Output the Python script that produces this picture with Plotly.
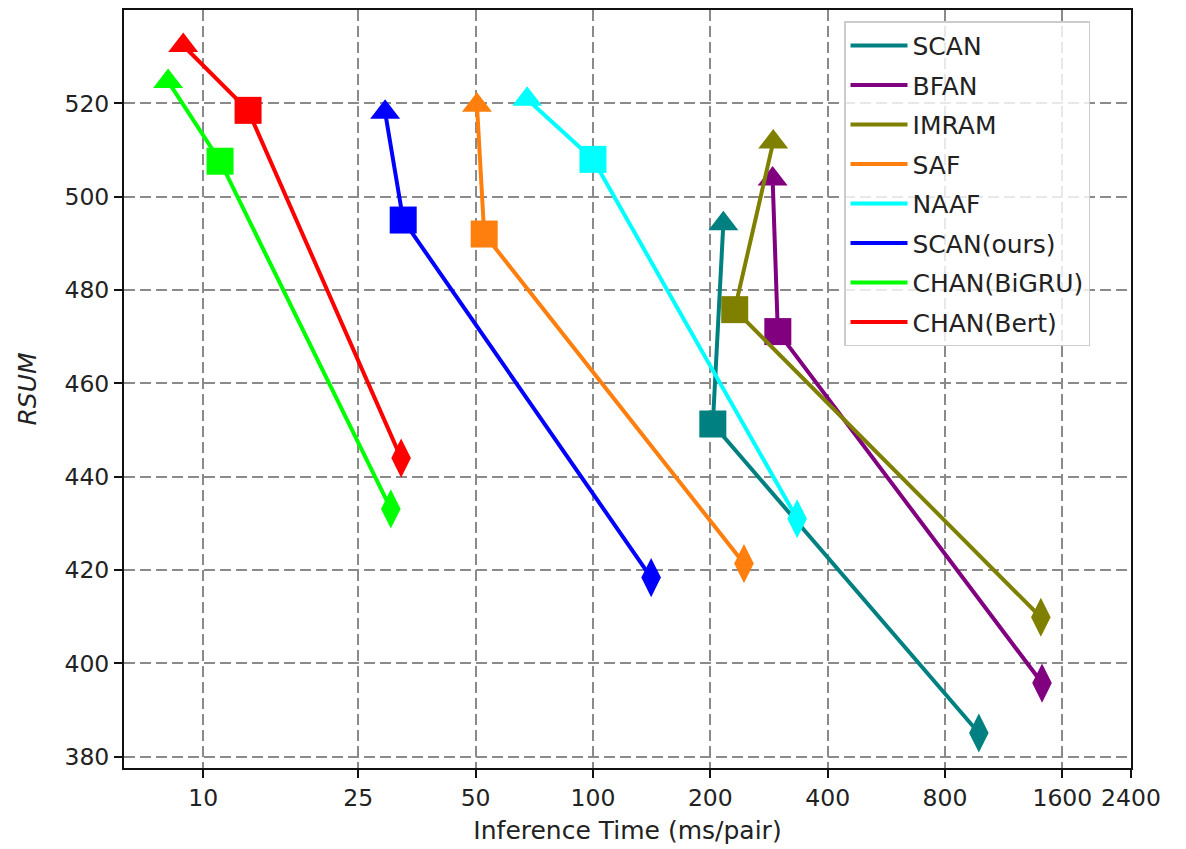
import plotly.graph_objects as go

# ---- data ----
names = ["SCAN", "BFAN", "IMRAM", "SAF", "NAAF", "SCAN(ours)", "CHAN(BiGRU)", "CHAN(Bert)"]
colors = ["#008080", "#800080", "#808000", "#ff7f0e", "#00ffff", "#0000ff", "#00ff00", "#ff0000"]

scan_x = [216, 203, 977]
scan_y = [494.2, 451.3, 385.1]
bfan_x = [289, 298, 1419]
bfan_y = [503.8, 471.1, 395.8]
imram_x = [290, 231, 1409]
imram_y = [511.7, 475.8, 409.9]
saf_x = [50.4, 52.6, 244]
saf_y = [519.6, 492.0, 421.4]
naaf_x = [67.8, 100, 334]
naaf_y = [520.9, 508.0, 431.0]
scan_ours_x = [29.3, 32.6, 141]
scan_ours_y = [518.1, 495.0, 418.4]
chan_bigru_x = [8.13, 11.05, 30.3]
chan_bigru_y = [524.7, 507.6, 433.1]
chan_bert_x = [8.89, 13.04, 32.2]
chan_bert_y = [532.4, 518.5, 444.0]

xs = [scan_x, bfan_x, imram_x, saf_x, naaf_x, scan_ours_x, chan_bigru_x, chan_bert_x]
ys = [scan_y, bfan_y, imram_y, saf_y, naaf_y, scan_ours_y, chan_bigru_y, chan_bert_y]

x_ticks = [10, 25, 50, 100, 200, 400, 800, 1600, 2400]
y_ticks = [380, 400, 420, 440, 460, 480, 500, 520]

symbols = ["triangle-up", "square", "diamond-tall"]
sizes = [26, 27, 28]

FONT = "DejaVu Sans"

fig = go.Figure()
for i, (n, c) in enumerate(zip(names, colors)):
    fig.add_trace(go.Scatter(
        x=xs[i], y=ys[i], mode="lines", name=n, legendgroup=n,
        line=dict(color=c, width=4),
    ))
    fig.add_trace(go.Scatter(
        x=xs[i], y=ys[i], mode="markers", name=n, legendgroup=n, showlegend=False,
        marker=dict(color=c, symbol=symbols, size=sizes, opacity=1, line=dict(width=0)),
    ))

grid = dict(showgrid=True, gridcolor="#8a8a8a", gridwidth=2, griddash="11px,5px")

# page body adds an 8px offset; figure size/margins compensate for it
fig.update_layout(
    width=1178, height=841,
    margin=dict(l=116, r=55, t=0, b=81),
    paper_bgcolor="white", plot_bgcolor="white",
    font=dict(family=FONT, size=24, color="#222222"),
    showlegend=True,
    legend=dict(
        x=0.715, y=0.985, xanchor="left", yanchor="top",
        bgcolor="rgba(255,255,255,0.8)", bordercolor="#cccccc", borderwidth=1.5,
        font=dict(family=FONT, size=25, color="#222222"),
        tracegroupgap=4, itemwidth=57,
    ),
    xaxis=dict(
        type="log", range=[0.797, 3.3802],
        tickvals=x_ticks, ticktext=[str(v) for v in x_ticks],
        ticks="outside", ticklen=8, tickwidth=1.5, tickcolor="#111111",
        showline=True, linecolor="#111111", linewidth=2, mirror=True,
        tickfont=dict(family=FONT, size=23.5, color="#222222"),
        title=dict(text="Inference Time (ms/pair)", font=dict(family=FONT, size=25, color="#222222"), standoff=10),
        zeroline=False, **grid,
    ),
    yaxis=dict(
        range=[377.6, 540.0],
        tickvals=y_ticks, ticktext=[str(v) for v in y_ticks],
        ticks="outside", ticklen=8, tickwidth=1.5, tickcolor="#111111",
        showline=True, linecolor="#111111", linewidth=2, mirror=True,
        tickfont=dict(family=FONT, size=23.5, color="#222222"),
        title=dict(text="<i>RSUM</i>", font=dict(family=FONT, size=25, color="#222222"), standoff=21),
        zeroline=False, **grid,
    ),
)

fig.write_html("out.html")
